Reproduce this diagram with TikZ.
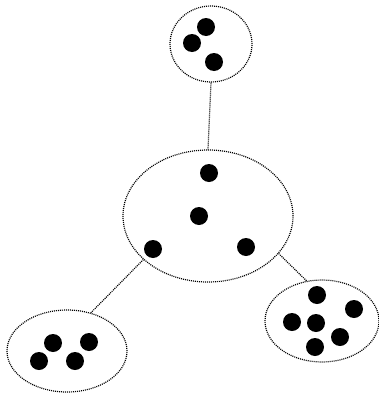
\documentclass[tikz,border=0pt]{standalone}
\usetikzlibrary{shapes.geometric}
\begin{document}
\begin{tikzpicture}[x=1pt,y=-1pt,
  dotline/.style={line width=1.2pt,dash pattern=on 1pt off 1pt},
  group/.style={ellipse,draw,dotline,inner sep=0pt},
  dot/.style={circle,fill=black,inner sep=0pt,minimum size=18pt}]
\useasboundingbox (0,0) rectangle (379,394);
\node[group,minimum width=82pt,minimum height=76pt] (top) at (211,44) {};
\node[group,minimum width=170pt,minimum height=132pt] (mid) at (208,216) {};
\node[group,minimum width=120pt,minimum height=82pt] (bl) at (67,351) {};
\node[group,minimum width=114pt,minimum height=82pt] (br) at (322,321) {};
\draw[dotline] (top.south) -- (mid.north);
\draw[dotline] (mid.214) -- (bl.58);
\draw[dotline] (mid.332) -- (br.111);
% top dots
\node[dot] (t1) at (206,27) {};
\node[dot] (t2) at (192,43) {};
\node[dot] (t3) at (214,62) {};
% middle dots
\node[dot] (m1) at (209,173) {};
\node[dot] (m2) at (199,216) {};
\node[dot] (m3) at (153,249) {};
\node[dot] (m4) at (246,247) {};
% bottom-left dots
\node[dot] (l1) at (53,343) {};
\node[dot] (l2) at (89,342) {};
\node[dot] (l3) at (39,361) {};
\node[dot] (l4) at (75,361) {};
% bottom-right dots
\node[dot] (r1) at (317,295) {};
\node[dot] (r2) at (354,309) {};
\node[dot] (r3) at (292,322) {};
\node[dot] (r4) at (316,323) {};
\node[dot] (r5) at (340,337) {};
\node[dot] (r6) at (315,347) {};
\end{tikzpicture}
\end{document}
